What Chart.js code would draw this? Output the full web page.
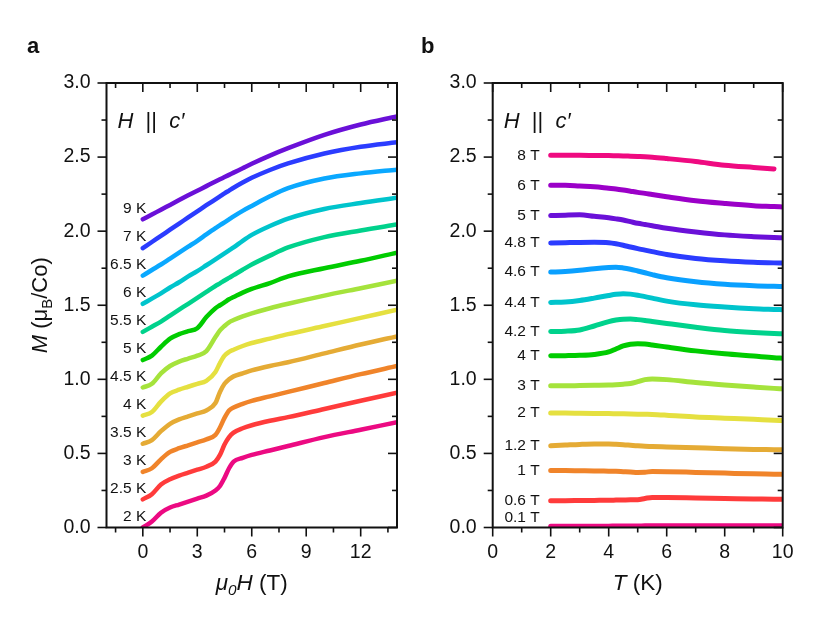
<!DOCTYPE html>
<html>
<head>
<meta charset="utf-8">
<script src="https://cdn.jsdelivr.net/npm/chart.js@4.4.1/dist/chart.umd.min.js"></script>
<style>
  html, body { margin: 0; padding: 0; background: #fff; }
  #wrap { position: relative; width: 831px; height: 636px; }
  canvas { position: absolute; top: 0; }
  #chartA { left: 0; }
  #chartB { left: 415px; }
</style>
</head>
<body>
<div id="wrap">
  <canvas id="chartA" width="415" height="636"></canvas>
  <canvas id="chartB" width="416" height="636"></canvas>
</div>
<script>
// ---- panel a : M vs field, one curve per temperature ----
const fieldA = [0, 0.5, 1, 1.5, 2, 2.5, 3, 3.5, 4, 4.25, 4.5, 4.75, 5, 5.5, 6, 7, 8, 10, 12, 14];
const tempLabels = ['2 K', '2.5 K', '3 K', '3.5 K', '4 K', '4.5 K', '5 K', '5.5 K', '6 K', '6.5 K', '7 K', '9 K'];
const m2K   = [0, 0.04, 0.10, 0.135, 0.155, 0.175, 0.195, 0.215, 0.25, 0.28, 0.335, 0.40, 0.445, 0.47, 0.49, 0.52, 0.55, 0.61, 0.66, 0.71];
const m2_5K = [0.19, 0.225, 0.29, 0.325, 0.35, 0.37, 0.39, 0.41, 0.445, 0.49, 0.56, 0.61, 0.64, 0.67, 0.69, 0.72, 0.745, 0.80, 0.855, 0.91];
const m3K   = [0.375, 0.40, 0.46, 0.51, 0.535, 0.555, 0.575, 0.595, 0.625, 0.675, 0.74, 0.79, 0.81, 0.835, 0.855, 0.885, 0.915, 0.975, 1.035, 1.09];
const m3_5K = [0.565, 0.59, 0.65, 0.70, 0.73, 0.75, 0.77, 0.79, 0.84, 0.915, 0.97, 1.0, 1.02, 1.04, 1.06, 1.09, 1.115, 1.175, 1.235, 1.29];
const m4K   = [0.755, 0.78, 0.85, 0.905, 0.93, 0.95, 0.97, 0.99, 1.05, 1.11, 1.16, 1.185, 1.2, 1.225, 1.245, 1.275, 1.305, 1.36, 1.415, 1.47];
const m4_5K = [0.945, 0.97, 1.04, 1.09, 1.12, 1.14, 1.16, 1.19, 1.285, 1.33, 1.36, 1.385, 1.40, 1.425, 1.445, 1.48, 1.51, 1.565, 1.615, 1.665];
const m5K   = [1.13, 1.16, 1.22, 1.275, 1.305, 1.325, 1.345, 1.42, 1.48, 1.50, 1.52, 1.54, 1.555, 1.585, 1.61, 1.65, 1.695, 1.75, 1.80, 1.855];
const m5_5K = [1.32, 1.355, 1.39, 1.43, 1.47, 1.51, 1.55, 1.59, 1.63, 1.648, 1.667, 1.685, 1.703, 1.74, 1.775, 1.835, 1.89, 1.96, 2.005, 2.045];
const m6K   = [1.51, 1.545, 1.58, 1.62, 1.655, 1.695, 1.73, 1.77, 1.81, 1.83, 1.85, 1.87, 1.89, 1.935, 1.975, 2.035, 2.085, 2.15, 2.19, 2.225];
const m6_5K = [1.70, 1.738, 1.775, 1.815, 1.855, 1.895, 1.935, 1.978, 2.02, 2.04, 2.06, 2.08, 2.10, 2.137, 2.17, 2.235, 2.29, 2.355, 2.39, 2.415];
const m7K   = [1.885, 1.927, 1.968, 2.01, 2.051, 2.093, 2.134, 2.175, 2.215, 2.235, 2.255, 2.274, 2.293, 2.328, 2.36, 2.413, 2.457, 2.524, 2.57, 2.60];
const m9K   = [2.08, 2.112, 2.145, 2.177, 2.21, 2.242, 2.273, 2.304, 2.335, 2.35, 2.365, 2.38, 2.395, 2.425, 2.455, 2.51, 2.56, 2.65, 2.72, 2.775];

// ---- panel b : M vs temperature, one curve per field ----
const tempB = [2, 2.5, 3, 3.5, 4, 4.25, 4.5, 4.75, 5, 5.25, 5.5, 6, 7, 8, 9, 9.7, 10];
const fieldLabels = ['0.1 T', '0.6 T', '1 T', '1.2 T', '2 T', '3 T', '4 T', '4.2 T', '4.4 T', '4.6 T', '4.8 T', '5 T', '6 T', '8 T'];
const m0_1T = [0.008, 0.008, 0.009, 0.009, 0.009, 0.01, 0.01, 0.01, 0.01, 0.011, 0.011, 0.011, 0.011, 0.012, 0.012, 0.012, 0.012];
const m0_6T = [0.181, 0.181, 0.182, 0.183, 0.184, 0.185, 0.186, 0.187, 0.188, 0.196, 0.203, 0.202, 0.199, 0.196, 0.193, 0.191, 0.19];
const m1T   = [0.384, 0.384, 0.383, 0.382, 0.38, 0.379, 0.377, 0.375, 0.372, 0.373, 0.378, 0.377, 0.372, 0.367, 0.362, 0.36, 0.359];
const m1_2T = [0.551, 0.556, 0.561, 0.564, 0.564, 0.562, 0.559, 0.555, 0.551, 0.548, 0.547, 0.544, 0.538, 0.532, 0.527, 0.525, 0.524];
const m2T   = [0.772, 0.772, 0.771, 0.77, 0.769, 0.768, 0.767, 0.766, 0.765, 0.764, 0.763, 0.758, 0.746, 0.738, 0.73, 0.724, 0.722];
const m3T   = [0.956, 0.956, 0.958, 0.96, 0.962, 0.964, 0.967, 0.972, 0.984, 0.998, 1.002, 0.998, 0.978, 0.962, 0.948, 0.939, 0.936];
const m4T   = [1.159, 1.16, 1.162, 1.168, 1.185, 1.205, 1.225, 1.237, 1.24, 1.238, 1.232, 1.218, 1.192, 1.172, 1.157, 1.146, 1.143];
const m4_2T = [1.323, 1.325, 1.333, 1.36, 1.39, 1.40, 1.406, 1.407, 1.403, 1.397, 1.39, 1.377, 1.352, 1.33, 1.316, 1.309, 1.307];
const m4_4T = [1.519, 1.522, 1.532, 1.548, 1.566, 1.574, 1.578, 1.575, 1.568, 1.558, 1.548, 1.528, 1.503, 1.488, 1.477, 1.472, 1.47];
const m4_6T = [1.724, 1.728, 1.736, 1.747, 1.755, 1.757, 1.752, 1.743, 1.731, 1.719, 1.707, 1.686, 1.659, 1.642, 1.632, 1.628, 1.627];
const m4_8T = [1.92, 1.922, 1.924, 1.925, 1.922, 1.915, 1.905, 1.893, 1.882, 1.872, 1.862, 1.843, 1.816, 1.80, 1.79, 1.786, 1.785];
const m5T   = [2.105, 2.108, 2.11, 2.10, 2.09, 2.083, 2.075, 2.064, 2.053, 2.045, 2.037, 2.02, 1.995, 1.975, 1.963, 1.957, 1.955];
const m6T   = [2.31, 2.31, 2.305, 2.30, 2.29, 2.285, 2.278, 2.27, 2.262, 2.255, 2.247, 2.232, 2.205, 2.187, 2.172, 2.166, 2.163];
const m8T   = [2.512, 2.512, 2.512, 2.511, 2.51, 2.509, 2.508, 2.506, 2.504, 2.502, 2.499, 2.49, 2.47, 2.445, 2.43, 2.42, null];

// ---- ticks ----
const xTicksA = [0, 3, 6, 9, 12];
const xMinorA = [-1.5, 1.5, 4.5, 7.5, 10.5, 13.5];
const xTicksB = [0, 2, 4, 6, 8, 10];
const xMinorB = [1, 3, 5, 7, 9];
const yTicks = [0, 0.5, 1, 1.5, 2, 2.5, 3];
const yMinor = [0.25, 0.75, 1.25, 1.75, 2.25, 2.75];

const seriesA = [m2K, m2_5K, m3K, m3_5K, m4K, m4_5K, m5K, m5_5K, m6K, m6_5K, m7K, m9K];
const colorsA = ['#ec0a82', '#ff3b3b', '#f0842a', '#e5ab35', '#e5e040', '#a5e33c',
                 '#00cc00', '#00d28c', '#00c4cc', '#0aa8ff', '#2b3cff', '#6a10d8'];
const seriesB = [m0_1T, m0_6T, m1T, m1_2T, m2T, m3T, m4T, m4_2T, m4_4T, m4_6T, m4_8T, m5T, m6T, m8T];
const colorsB = ['#ec0a82', '#ff3b3b', '#f0842a', '#e5ab35', '#e5e040', '#a5e33c', '#00cc00',
                 '#00d28c', '#00c4cc', '#0aa0ff', '#2b3cff', '#6a10d8', '#9b00c8', '#ef0a80'];

const FONT = '"Liberation Sans", Arial, sans-serif';
Chart.defaults.font.family = FONT;
Chart.defaults.color = '#111';

// text with italic / subscript pieces
function drawRich(ctx, parts, x, y, size, align) {
  const fontFor = p => (p.i ? 'italic ' : '') + (p.b ? 'bold ' : '') + (p.sub ? size * 0.68 : size) + 'px ' + FONT;
  let w = 0;
  parts.forEach(p => { ctx.font = fontFor(p); w += ctx.measureText(p.t).width; });
  let cx = align === 'center' ? x - w / 2 : x;
  ctx.textAlign = 'left';
  ctx.textBaseline = 'alphabetic';
  parts.forEach(p => {
    ctx.font = fontFor(p);
    ctx.fillText(p.t, cx, y + (p.sub ? size * 0.22 : 0));
    cx += ctx.measureText(p.t).width;
  });
}

const frame = {
  id: 'frame',
  afterDatasetsDraw(chart, args, o) {
    const { ctx, chartArea: a, scales: { x, y } } = chart;
    ctx.save();
    ctx.strokeStyle = '#111';
    ctx.fillStyle = '#111';
    const seg = (x1, y1, x2, y2) => { ctx.beginPath(); ctx.moveTo(x1, y1); ctx.lineTo(x2, y2); ctx.stroke(); };
    ctx.lineWidth = 1.6;
    const xt = (v, len) => { const p = x.getPixelForValue(v); seg(p, a.bottom, p, a.bottom + len); seg(p, a.top, p, a.top + len); };
    const yt = (v, len) => { const p = y.getPixelForValue(v); seg(a.left - len, p, a.left, p); seg(a.right - len, p, a.right, p); };
    o.xMajor.forEach(v => xt(v, 9));
    o.xMinor.forEach(v => xt(v, 5));
    yTicks.forEach(v => yt(v, 9));
    yMinor.forEach(v => yt(v, 5));
    ctx.lineWidth = 2;
    ctx.strokeRect(a.left, a.top, a.right - a.left, a.bottom - a.top);

    // curve labels next to the first point
    ctx.font = '15.5px ' + FONT;
    ctx.textAlign = 'right';
    ctx.textBaseline = 'middle';
    chart.data.datasets.forEach(ds => {
      const p0 = ds.data.find(d => d.y !== null);
      const px = x.getPixelForValue(p0.x) + o.labelDx;
      const py = Math.min(y.getPixelForValue(p0.y) + o.labelDy, a.bottom - 10);
      ctx.fillText(ds.label, px, py);
    });

    drawRich(ctx, [{ t: 'H', i: 1 }, { t: '  ||  ' }, { t: 'c′', i: 1 }], a.left + 11, a.top + 45, 22);
    drawRich(ctx, o.xTitle, (a.left + a.right) / 2, 590, 22.5, 'center');
    if (o.yTitle) {
      ctx.save();
      ctx.translate(47, (a.top + a.bottom) / 2);
      ctx.rotate(-Math.PI / 2);
      drawRich(ctx, o.yTitle, 0, 0, 22, 'center');
      ctx.restore();
    }
    drawRich(ctx, [{ t: o.letter, b: 1 }], o.letterX, 53, 22);
    ctx.restore();
  }
};

function makeChart(id, xs, series, labels, colors, width, cfg) {
  const ctx = document.getElementById(id).getContext('2d');
  return new Chart(ctx, {
    type: 'line',
    data: {
      datasets: series.map((s, i) => ({
        label: labels[i],
        data: xs.map((v, j) => ({ x: v, y: s[j] })),
        borderColor: colors[i],
        borderWidth: width,
        borderCapStyle: 'round',
        pointRadius: 0,
        cubicInterpolationMode: 'monotone',
        spanGaps: false,
      })),
    },
    options: {
      responsive: false,
      animation: false,
      devicePixelRatio: 1,
      layout: { padding: { top: 83, right: cfg.rightPad, left: 0, bottom: 0 } },
      plugins: {
        legend: { display: false },
        tooltip: { enabled: false },
        frame: cfg.frame,
      },
      scales: {
        x: {
          type: 'linear',
          min: cfg.xMin,
          max: cfg.xMax,
          afterBuildTicks: s => { s.ticks = cfg.frame.xMajor.map(v => ({ value: v })); },
          afterFit: s => { s.height = 108.5; },
          grid: { display: false, drawTicks: false },
          border: { display: false },
          ticks: { font: { size: 19.5 }, padding: 13, maxRotation: 0, autoSkip: false, color: '#111' },
        },
        y: {
          min: 0,
          max: 3,
          afterBuildTicks: s => { s.ticks = yTicks.map(v => ({ value: v })); },
          afterFit: s => { s.width = cfg.leftW; },
          grid: { display: false, drawTicks: false },
          border: { display: false },
          ticks: { font: { size: 19.5 }, padding: 16, color: '#111', callback: v => v.toFixed(1) },
        },
      },
    },
    plugins: [frame],
  });
}

makeChart('chartA', fieldA, seriesA, tempLabels, colorsA, 4.5, {
  xMin: -2, xMax: 14, leftW: 106.5, rightPad: 18,
  frame: {
    xMajor: xTicksA, xMinor: xMinorA, labelDx: 3.5, labelDy: -11, letter: 'a', letterX: 27,
    xTitle: [{ t: 'μ', i: 1 }, { t: '0', i: 1, sub: 1 }, { t: 'H', i: 1 }, { t: ' (T)' }],
    yTitle: [{ t: 'M', i: 1 }, { t: ' (μ' }, { t: 'B', sub: 1 }, { t: '/Co)' }],
  },
});

makeChart('chartB', tempB, seriesB, fieldLabels, colorsB, 5, {
  xMin: 0, xMax: 10, leftW: 77.7, rightPad: 48.3,
  frame: {
    xMajor: xTicksB, xMinor: xMinorB, labelDx: -11, labelDy: 0, letter: 'b', letterX: 6,
    xTitle: [{ t: 'T', i: 1 }, { t: ' (K)' }],
    yTitle: null,
  },
});
</script>
</body>
</html>
